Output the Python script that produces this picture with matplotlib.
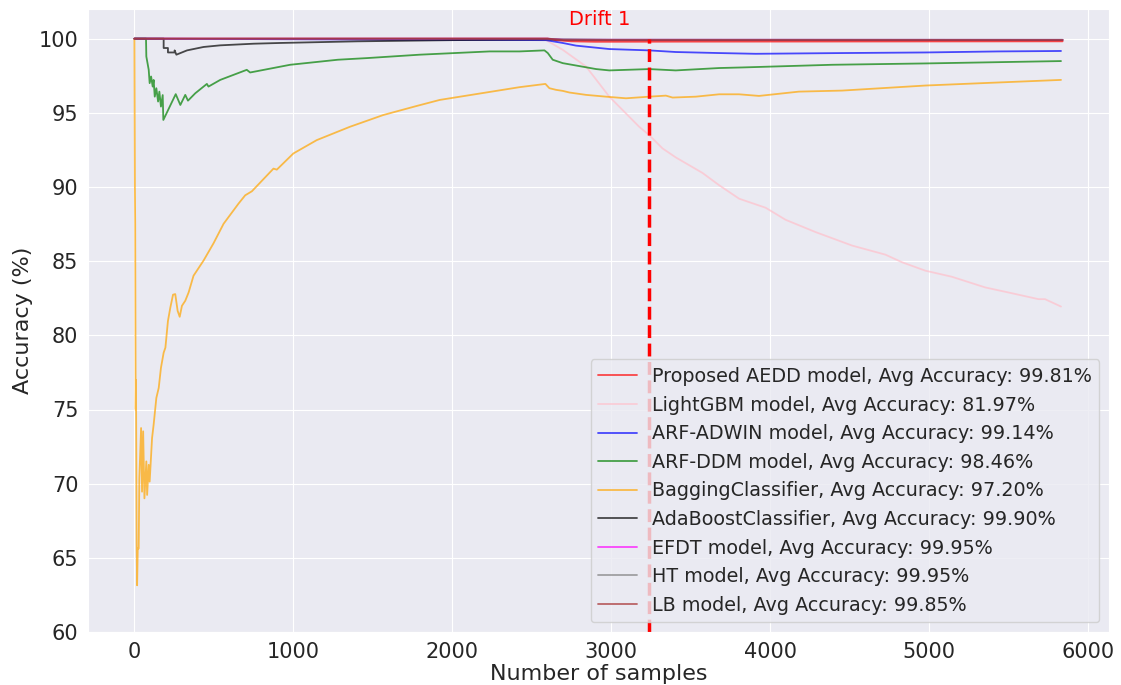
import matplotlib
matplotlib.use("Agg")
import matplotlib.pyplot as plt
import seaborn as sns

sns.set_style("darkgrid")
plt.rcParams['font.family'] = ['DejaVu Sans']

drift_at = 3240

# accuracy traces, one (samples, accuracy) pair of lists per model
aedd_x = [0, 2600, 2650, 2750, 2900, 3500, 5840]
aedd_y = [100, 100, 99.9, 99.82, 99.79, 99.8, 99.82]

lgbm_x = [0, 2590, 2695, 2842, 2988, 3176, 3239, 3323, 3407, 3574, 3679, 3805,
          3972, 4097, 4286, 4516, 4725, 4829, 4976, 5143, 5353, 5499, 5688,
          5729, 5830]
lgbm_y = [100, 99.9, 99.25, 98.12, 96.09, 94.06, 93.5, 92.6, 91.99, 90.95,
          90.12, 89.21, 88.6, 87.79, 86.96, 86.05, 85.44, 84.93, 84.36, 83.95,
          83.23, 82.89, 82.44, 82.44, 81.94]

adwin_x = [0, 2590, 2695, 2779, 2988, 3239, 3406, 3679, 3909, 4453, 4976,
           5436, 5830]
adwin_y = [100, 99.9, 99.71, 99.53, 99.3, 99.21, 99.1, 99.03, 98.98, 99.03,
           99.07, 99.14, 99.17]

ddm_x = [0, 73, 75, 90, 96, 105, 115, 121, 128, 138, 149, 157, 167, 178, 182,
         260, 289, 320, 337, 383, 456, 466, 540, 707, 728, 980, 1280, 1463,
         1795, 2235, 2423, 2580, 2601, 2632, 2695, 2905, 2988, 3239, 3406,
         3679, 3825, 4390, 4976, 5830]
ddm_y = [100, 100, 98.8, 97.9, 97.0, 97.45, 96.77, 97.22, 96.09, 96.66, 95.76,
         96.43, 95.42, 96.2, 94.52, 96.26, 95.53, 96.21, 95.82, 96.32, 96.95,
         96.77, 97.22, 97.9, 97.72, 98.24, 98.58, 98.69, 98.92, 99.14, 99.14,
         99.21, 99.03, 98.58, 98.35, 97.95, 97.86, 97.95, 97.86, 98.02, 98.06,
         98.24, 98.33, 98.49]

bag_x = [0, 3, 5, 8, 10, 14, 17, 21, 27, 31, 42, 48, 55, 63, 75, 80, 90, 96,
         111, 121, 138, 153, 167, 184, 195, 211, 226, 243, 257, 272, 285, 299,
         320, 341, 372, 435, 498, 561, 655, 697, 739, 875, 896, 1000, 1147,
         1356, 1565, 1775, 1921, 2423, 2586, 2611, 2653, 2695, 2737, 2842,
         2967, 3093, 3239, 3344, 3386, 3532, 3679, 3804, 3930, 4181, 4453,
         4976, 5331, 5830]
bag_y = [100, 90, 87.5, 75, 77, 66, 63.15, 65.63, 65.63, 70.37, 73.75, 69.46,
         73.53, 69.01, 71.5, 69.24, 71.27, 70.14, 73.07, 73.98, 75.78, 76.46,
         77.81, 78.83, 79.17, 80.97, 81.87, 82.74, 82.78, 81.65, 81.25, 81.99,
         82.33, 82.89, 84.02, 85.04, 86.21, 87.52, 88.88, 89.44, 89.71, 91.24,
         91.17, 92.26, 93.16, 94.06, 94.85, 95.46, 95.87, 96.73, 96.95, 96.66,
         96.55, 96.48, 96.37, 96.21, 96.09, 95.98, 96.09, 96.16, 96.03, 96.09,
         96.25, 96.25, 96.14, 96.43, 96.5, 96.84, 97.0, 97.22]

ada_x = [0, 184, 184, 211, 211, 253, 253, 264, 331, 435, 540, 749, 917, 1400,
         2000, 2600, 3000, 5840]
ada_y = [100, 100, 99.37, 99.37, 99.07, 99.07, 99.21, 98.92, 99.21, 99.44,
         99.55, 99.66, 99.71, 99.82, 99.9, 99.95, 99.92, 99.92]

efdt_x = [0, 2600, 2700, 5840]
efdt_y = [100, 100, 99.93, 99.92]

ht_x = [0, 2600, 2700, 5840]
ht_y = [100, 100, 99.93, 99.92]

lb_x = [0, 2600, 2700, 5840]
lb_y = [100, 100, 99.9, 99.9]

series = [
    (aedd_x, aedd_y, 'red', 'Proposed AEDD model, Avg Accuracy: 99.81%'),
    (lgbm_x, lgbm_y, 'pink', 'LightGBM model, Avg Accuracy: 81.97%'),
    (adwin_x, adwin_y, 'blue', 'ARF-ADWIN model, Avg Accuracy: 99.14%'),
    (ddm_x, ddm_y, 'green', 'ARF-DDM model, Avg Accuracy: 98.46%'),
    (bag_x, bag_y, 'orange', 'BaggingClassifier, Avg Accuracy: 97.20%'),
    (ada_x, ada_y, 'black', 'AdaBoostClassifier, Avg Accuracy: 99.90%'),
    (efdt_x, efdt_y, 'magenta', 'EFDT model, Avg Accuracy: 99.95%'),
    (ht_x, ht_y, 'gray', 'HT model, Avg Accuracy: 99.95%'),
    (lb_x, lb_y, 'brown', 'LB model, Avg Accuracy: 99.85%'),
]

fig = plt.figure(figsize=(11.21, 6.85), dpi=100)
ax = fig.add_axes([88 / 1121, 1 - 632 / 685, (1109 - 88) / 1121, (632 - 9) / 685])

for xs, ys, color, label in series:
    ax.plot(xs, ys, color=color, alpha=0.7, linewidth=1.3, label=label)

ax.vlines(drift_at, 60, 100, colors='red', linestyles='--', linewidth=2.5)
ax.text(2925, 101.3, 'Drift 1', color='red', fontsize=14,
        ha='center', va='center')

ax.set_ylim(60, 102)
ax.set_xlabel('Number of samples', fontsize=16, labelpad=2)
ax.set_ylabel('Accuracy (%)', fontsize=16)
ax.tick_params(axis='both', labelsize=15)
ax.legend(loc='lower right', fontsize=13.8, labelspacing=0.5)

fig.savefig('out.png', dpi=100)
